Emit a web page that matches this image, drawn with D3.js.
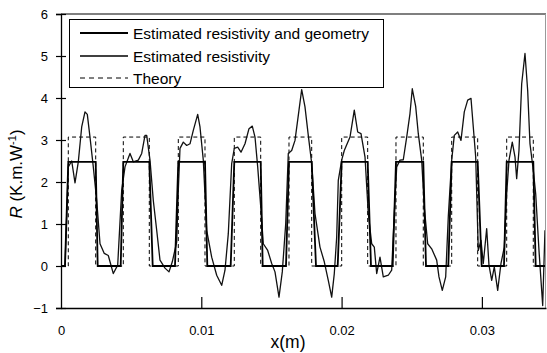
<!DOCTYPE html>
<html>
<head>
<meta charset="utf-8">
<script src="https://cdn.jsdelivr.net/npm/d3@7"></script>
<style>
  body { margin: 0; background: #fff; }
  svg { display: block; font-family: "Liberation Sans", Arial, sans-serif; }
</style>
</head>
<body>
<div id="chart"></div>
<script>
const xTicks = [0, 0.01, 0.02, 0.03];
const yTicks = [-1, 0, 1, 2, 3, 4, 5, 6];
const legendLabels = ["Estimated resistivity and geometry", "Estimated resistivity", "Theory"];

// positions are in mm, values in K.m/W
const curveXmm = [0.285, 0.520, 0.763, 0.998, 1.233, 1.475, 1.711, 1.875, 2.067, 2.302, 2.545, 2.780, 3.086, 3.371, 3.728, 4.041,
  4.326, 4.562, 4.918, 5.153, 5.510, 5.752, 5.987, 6.108, 6.344, 6.579, 6.821, 7.056, 7.413, 7.698, 7.933, 8.247,
  8.361, 8.482, 8.717, 8.960, 9.195, 9.430, 9.743, 9.907, 10.143, 10.385, 10.741, 11.098, 11.454, 11.689, 11.925,
  12.167, 12.352, 12.595, 12.830, 13.115, 13.400, 13.635, 13.828, 14.020, 14.255, 14.419, 14.733, 15.018, 15.253,
  15.538, 15.773, 16.016, 16.201, 16.443, 16.679, 16.964, 17.156, 17.391, 17.626, 17.869, 18.104, 18.460, 18.767,
  19.052, 19.294, 19.480, 19.651, 19.765, 20.007, 20.192, 20.599, 20.905, 21.148, 21.383, 21.668, 21.903, 22.146,
  22.331, 22.502, 22.737, 22.972, 23.329, 23.571, 23.756, 23.928, 24.163, 24.398, 24.640, 24.875, 25.039, 25.281,
  25.467, 25.709, 25.894, 26.137, 26.422, 26.778, 26.942, 27.178, 27.420, 27.605, 27.848, 28.033, 28.275, 28.510,
  28.746, 28.988, 29.223, 29.387, 29.558, 29.743, 29.936, 30.100, 30.342, 30.506, 30.699, 30.884, 31.126, 31.361,
  31.597, 31.768, 31.932, 32.167, 32.359, 32.480, 32.644, 32.837, 33.072, 33.264, 33.428, 33.664, 33.835, 34.070,
  34.334, 34.497];
const curveR = [0, 2.36, 2.5, 1.98, 2.48, 3.31, 3.67, 3.61, 3.07, 2.36, 1.56, 0.53, 0.3, 0.25, -0.18, 0.02,
  1.8, 2.36, 2.68, 2.48, 2.52, 2.68, 3.11, 3.11, 2.52, 1.56, 0.85, 0.14, -0.05, -0.14, 0.1, 0.57,
  1.8, 2.8, 2.95, 2.87, 2.91, 3.23, 3.61, 3.31, 2.52, 0.85, 0.21, -0.22, -0.46, -0.1, 0.77,
  2.44, 2.8, 2.83, 2.71, 2.91, 3.27, 3.33, 3.07, 2.36, 1.33, 0.53, 0.37, 0.06, -0.14,
  -0.74, -0.14, 1.0, 2.68, 2.75, 2.99, 3.71, 4.2, 3.79, 3.11, 2.44, 1.25, 0.45, 0.1,
  -0.34, -0.74, -0.18, 0.69, 2.04, 2.52, 2.75, 3.07, 3.71, 3.19, 3.15, 2.6, 1.25, 0.53,
  0.45, -0.18, 0.21, -0.26, -0.22, -0.1, 1.25, 2.36, 2.52, 2.53, 3.07, 3.63, 4.22, 3.8,
  3.15, 2.52, 1.4, 0.53, 0.41, 0.14, -0.26, -0.58, -0.26, 1.17, 2.52, 3.11, 3.19, 2.99,
  3.67, 3.95, 3.99, 3.31, 2.6, 0.37, 0.61, 0.06, 0.89, 0.02, -0.34, -0.02, -0.58, 0.06,
  0.45, 1.72, 2.52, 2.95, 2.6, 2.08, 2.75, 4.34, 5.06, 4.18, 2.91, 2.28, 1.72, 0.37,
  -0.94, 0.85];

const theoryStartMm = [0.520, 4.441, 8.361, 12.352, 16.251, 20.007, 23.877, 27.848, 31.768];
const theoryEndMm = [2.473, 6.294, 10.264, 14.234, 17.869, 21.860, 25.823, 29.700, 33.664];
const theoryR = 3.07;

const geomFootStartMm = [0.285, 4.255, 8.125, 12.095, 16.037, 19.722, 23.642, 27.605, 31.575];
const geomFootEndMm = [2.616, 6.536, 10.428, 14.376, 18.175, 22.096, 26.016, 29.985, 33.835];
const geomR = 2.48;

const W = 547, H = 353;
const xMax = 0.03457;
const x = d3.scaleLinear().domain([0, xMax]).range([61, 546]);
const y = d3.scaleLinear().domain([-1, 6]).range([308, 14]);

const svg = d3.select("#chart").append("svg").attr("width", W).attr("height", H);

svg.append("defs").append("clipPath").attr("id", "plot")
  .append("rect").attr("x", x(0)).attr("y", y(6)).attr("width", x(xMax) - x(0)).attr("height", y(-1) - y(6));

const line = d3.line().x(d => x(d[0])).y(d => y(d[1]));

// theory pulses
const theoryPts = [[0, 0]];
theoryStartMm.forEach((s, i) => {
  const e = theoryEndMm[i];
  theoryPts.push([s / 1000, 0], [s / 1000, theoryR], [e / 1000, theoryR], [e / 1000, 0]);
});
theoryPts.push([xMax, 0]);

// estimated resistivity and geometry
const geomPts = [[0, 0]];
geomFootStartMm.forEach((s, i) => {
  geomPts.push([s / 1000, 0], [theoryStartMm[i] / 1000, geomR], [theoryEndMm[i] / 1000, geomR], [geomFootEndMm[i] / 1000, 0]);
});
geomPts.push([xMax, 0]);

const curvePts = curveXmm.map((v, i) => [v / 1000, curveR[i]]);

const g = svg.append("g").attr("clip-path", "url(#plot)");

g.append("path").datum(theoryPts).attr("d", line)
  .attr("fill", "none").attr("stroke", "#000").attr("stroke-width", 1).attr("stroke-dasharray", "4,3");

g.append("path").datum(curvePts).attr("d", line)
  .attr("fill", "none").attr("stroke", "#111").attr("stroke-width", 1.3).attr("stroke-linejoin", "round");

g.append("path").datum(geomPts).attr("d", line)
  .attr("fill", "none").attr("stroke", "#000").attr("stroke-width", 1.8);

// frame
svg.append("line").attr("x1", x(0)).attr("x2", x(xMax)).attr("y1", y(6)).attr("y2", y(6))
  .attr("stroke", "#000").attr("stroke-width", 1.2);
svg.append("line").attr("x1", x(xMax) - 0.5).attr("x2", x(xMax) - 0.5).attr("y1", y(6)).attr("y2", y(-1))
  .attr("stroke", "#999").attr("stroke-width", 1);

// axes
const yAxis = svg.append("g").attr("transform", `translate(${x(0)},0)`)
  .call(d3.axisLeft(y).tickValues(yTicks).tickSize(5).tickPadding(8).tickFormat(d3.format("d")));
yAxis.select(".domain").attr("stroke-width", 1.3);
yAxis.selectAll(".tick line").attr("x1", 5).attr("stroke-width", 1.2);
yAxis.selectAll(".tick text").attr("font-size", 13).attr("fill", "#000");

const xAxis = svg.append("g").attr("transform", `translate(0,${y(-1)})`)
  .call(d3.axisBottom(x).tickValues(xTicks).tickSizeInner(-11).tickSizeOuter(0).tickPadding(18)
    .tickFormat(d => d === 0 ? "0" : d.toFixed(2)));
xAxis.select(".domain").attr("stroke-width", 1.3);
xAxis.selectAll(".tick line").attr("stroke-width", 1.2).filter(d => d === 0).remove();
xAxis.selectAll(".tick text").attr("font-size", 13).attr("fill", "#000");

// axis titles
svg.append("text").attr("x", 288).attr("y", 348).attr("text-anchor", "middle")
  .attr("font-size", 17.5).text("x(m)");

const yt = svg.append("text").attr("transform", "translate(22,174) rotate(-90)")
  .attr("text-anchor", "middle").attr("font-size", 17);
yt.append("tspan").attr("font-style", "italic").text("R");
yt.append("tspan").text("  (K.m.W");
yt.append("tspan").attr("font-size", 11).attr("dy", -6).text("-1");
yt.append("tspan").attr("dy", 6).text(")");

// legend
const lg = svg.append("g");
lg.append("rect").attr("x", 69.5).attr("y", 19.5).attr("width", 314).attr("height", 68)
  .attr("fill", "#fff").attr("stroke", "#000").attr("stroke-width", 1);
const rowY = [33, 56, 78];
const rowStyle = [
  { w: 1.8, dash: null },
  { w: 1.3, dash: null },
  { w: 1, dash: "5,4" }
];
legendLabels.forEach((t, i) => {
  lg.append("line").attr("x1", 80).attr("x2", 128).attr("y1", rowY[i]).attr("y2", rowY[i])
    .attr("stroke", "#000").attr("stroke-width", rowStyle[i].w)
    .attr("stroke-dasharray", rowStyle[i].dash);
  lg.append("text").attr("x", 133).attr("y", rowY[i] + 5.5).attr("font-size", 15.5).text(t);
});
</script>
</body>
</html>
